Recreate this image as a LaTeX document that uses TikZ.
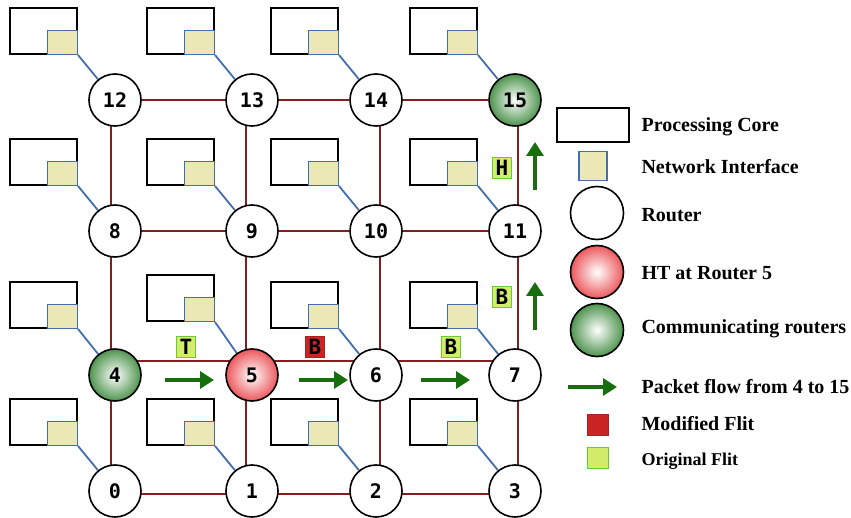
\documentclass[tikz,border=0pt]{standalone}
\usepackage{fontspec}
\setmainfont{Liberation Serif}
\setmonofont{DejaVu Sans Mono}
\newfontfamily\flitfont{DejaVu Sans Mono Bold}
\usetikzlibrary{arrows.meta,backgrounds}

\definecolor{linkred}{RGB}{130,32,32}
\definecolor{niblue}{RGB}{66,110,176}
\definecolor{nifill}{RGB}{235,232,182}
\definecolor{flowgreen}{RGB}{22,110,12}
\definecolor{flitgreen}{RGB}{212,236,108}
\definecolor{flitedge}{RGB}{104,204,48}
\definecolor{flitred}{RGB}{202,36,36}
\definecolor{htred}{RGB}{236,88,92}
\definecolor{commgreen}{RGB}{78,148,78}

\begin{document}
\begin{tikzpicture}[x=1pt,y=-1pt,
                    router/.style={circle,draw,line width=1.6pt,minimum size=52pt,inner sep=0pt,
                                   fill=white,font=\ttfamily\bfseries\fontsize{20}{20}\selectfont},
                    ht router/.style={router,shading=radial,inner color=white,outer color=htred},
                    comm router/.style={router,shading=radial,inner color=white,outer color=commgreen},
                    core/.style={draw,line width=1.6pt,minimum width=67pt,minimum height=46pt,
                                 inner sep=0pt,anchor=south east},
                    ni/.style={draw=niblue,fill=nifill,line width=1.3pt,minimum width=30pt,
                               minimum height=24pt,inner sep=0pt,anchor=south east},
                    link/.style={draw=linkred,line width=1.5pt},
                    ni link/.style={draw=niblue,line width=1.8pt},
                    flow/.style={draw=flowgreen,line width=3.2pt,-{Triangle[length=14pt,width=17pt]}},
                    flit/.style={draw=flitedge,fill=flitgreen,line width=0.8pt,inner sep=0.5pt,
                                 minimum width=19pt,minimum height=21pt},
                    bad flit/.style={flit,draw=flitred!85!black,fill=flitred},
                    legend text/.style={anchor=west,font=\bfseries\fontsize{20}{24}\selectfont}]

        \useasboundingbox (0,0) rectangle (851,518);

        % Define routers
        \node[router]      (r12) at (115,100) {12};
        \node[router]      (r13) at (252,100) {13};
        \node[router]      (r14) at (376,100) {14};
        \node[comm router] (r15) at (515,100) {15};
        \node[router]      (r8)  at (115,231) {8};
        \node[router]      (r9)  at (252,231) {9};
        \node[router]      (r10) at (376,231) {10};
        \node[router]      (r11) at (515,231) {11};
        \node[comm router] (r4)  at (115,375) {4};
        \node[ht router]   (r5)  at (252,375) {5};
        \node[router]      (r6)  at (376,375) {6};
        \node[router]      (r7)  at (515,375) {7};
        \node[router]      (r0)  at (115,491) {0};
        \node[router]      (r1)  at (252,491) {1};
        \node[router]      (r2)  at (376,491) {2};
        \node[router]      (r3)  at (515,491) {3};

        % Define cores and network interfaces
        \node[core] (c12) at (78,55) {};   \node[ni] (n12) at (c12.south east) {};
        \node[core] (c13) at (215,55) {};  \node[ni] (n13) at (c13.south east) {};
        \node[core] (c14) at (339,55) {};  \node[ni] (n14) at (c14.south east) {};
        \node[core] (c15) at (478,55) {};  \node[ni] (n15) at (c15.south east) {};
        \node[core] (c8)  at (78,186) {};  \node[ni] (n8)  at (c8.south east) {};
        \node[core] (c9)  at (215,186) {}; \node[ni] (n9)  at (c9.south east) {};
        \node[core] (c10) at (339,186) {}; \node[ni] (n10) at (c10.south east) {};
        \node[core] (c11) at (478,186) {}; \node[ni] (n11) at (c11.south east) {};
        \node[core] (c4)  at (78,329) {};  \node[ni] (n4)  at (c4.south east) {};
        \node[core] (c5)  at (215,322) {}; \node[ni] (n5)  at (c5.south east) {};
        \node[core] (c6)  at (339,329) {}; \node[ni] (n6)  at (c6.south east) {};
        \node[core] (c7)  at (478,329) {}; \node[ni] (n7)  at (c7.south east) {};
        \node[core] (c0)  at (78,446) {};  \node[ni] (n0)  at (c0.south east) {};
        \node[core] (c1)  at (215,446) {}; \node[ni] (n1)  at (c1.south east) {};
        \node[core] (c2)  at (339,446) {}; \node[ni] (n2)  at (c2.south east) {};
        \node[core] (c3)  at (478,446) {}; \node[ni] (n3)  at (c3.south east) {};

        % Draw links
        \begin{pgfonlayer}{background}
        \path[link]
            (r12) edge (r13) (r13) edge (r14) (r14) edge (r15)
            (r8) edge (r9) (r9) edge (r10) (r10) edge (r11)
            ([yshift=14pt]r4.center) edge ([yshift=14pt]r5.center)
            ([yshift=14pt]r5.center) edge ([yshift=14pt]r6.center)
            ([yshift=14pt]r6.center) edge ([yshift=14pt]r7.center)
            ([yshift=-3pt]r0.center) edge ([yshift=-3pt]r1.center)
            ([yshift=-3pt]r1.center) edge ([yshift=-3pt]r2.center)
            ([yshift=-3pt]r2.center) edge ([yshift=-3pt]r3.center)
            ([xshift=-4pt]r12.center) edge ([xshift=-4pt]r8.center)
            ([xshift=-4pt]r8.center) edge ([xshift=-4pt]r4.center)
            ([xshift=-4pt]r4.center) edge ([xshift=-4pt]r0.center)
            ([xshift=-6pt]r13.center) edge ([xshift=-6pt]r9.center)
            ([xshift=-6pt]r9.center) edge ([xshift=-6pt]r5.center)
            ([xshift=-6pt]r5.center) edge ([xshift=-6pt]r1.center)
            ([xshift=4pt]r14.center) edge ([xshift=4pt]r10.center)
            ([xshift=4pt]r10.center) edge ([xshift=4pt]r6.center)
            ([xshift=4pt]r6.center) edge ([xshift=4pt]r2.center)
            ([xshift=3pt]r15.center) edge ([xshift=3pt]r11.center)
            ([xshift=3pt]r11.center) edge ([xshift=3pt]r7.center)
            ([xshift=3pt]r7.center) edge ([xshift=3pt]r3.center);
        \path[ni link]
            (n12.south east) edge (r12) (n13.south east) edge (r13)
            (n14.south east) edge (r14) (n15.south east) edge (r15)
            (n8.south east) edge (r8) (n9.south east) edge (r9)
            (n10.south east) edge (r10) (n11.south east) edge (r11)
            (n4.south east) edge (r4) (n5.south east) edge (r5)
            (n6.south east) edge (r6) (n7.south east) edge (r7)
            (n0.south east) edge (r0) (n1.south east) edge (r1)
            (n2.south east) edge (r2) (n3.south east) edge (r3);
        \end{pgfonlayer}

        % Flits and packet flow
        \node[flit]     (t45)   at (186,347) {\flitfont\fontsize{21}{21}\selectfont T};
        \node[bad flit] (b56)   at (315,347) {\flitfont\fontsize{21}{21}\selectfont B};
        \node[flit]     (b67)   at (451,347) {\flitfont\fontsize{21}{21}\selectfont B};
        \node[flit]     (b711)  at (502,297) {\flitfont\fontsize{21}{21}\selectfont B};
        \node[flit]     (h1115) at (502,168) {\flitfont\fontsize{21}{21}\selectfont H};
        \draw[flow] (165,380) -- (214,380);
        \draw[flow] (299,380) -- (348,380);
        \draw[flow] (421,380) -- (470,380);
        \draw[flow] (535,330) -- (535,282);
        \draw[flow] (535,190) -- (535,142);

        % Legend
        \node[core,anchor=center,minimum width=72pt,minimum height=34pt] (lcore) at (593,125) {};
        \node[ni,anchor=center,minimum width=28pt,minimum height=29pt] (lni) at (593,166) {};
        \node[router,minimum size=53pt] (lrouter) at (597,213) {};
        \node[ht router,minimum size=53pt] (lht) at (597,272) {};
        \node[comm router,minimum size=53pt] (lcomm) at (597,330) {};
        \draw[flow] (568,387) -- (617,387);
        \node[bad flit,minimum size=21pt] (lbad) at (598,425) {};
        \node[flit,minimum size=21pt] (lgood) at (598,457.5) {};
        \node[legend text] at (638,127) {Processing Core};
        \node[legend text] at (638,167) {Network Interface};
        \node[legend text] at (638,215) {Router};
        \node[legend text] at (638,273) {HT at Router 5};
        \node[legend text] at (638,329) {Communicating routers};
        \node[legend text] at (638,387) {Packet flow from 4 to 15};
        \node[legend text] at (638,424) {Modified Flit};
        \node[legend text,font=\bfseries\fontsize{18}{22}\selectfont] at (638,461) {Original Flit};
\end{tikzpicture}
\end{document}
